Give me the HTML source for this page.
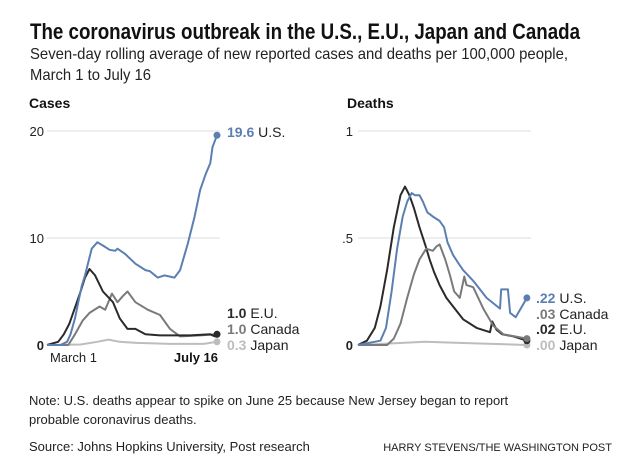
<!DOCTYPE html>
<html><head><meta charset="utf-8"><style>
html,body{margin:0;padding:0;background:#fff;}
svg{display:block;font-family:"Liberation Sans",sans-serif;}
</style></head><body>
<svg id="chart" width="640" height="464" viewBox="0 0 640 464">
<text x="30" y="39" font-size="22" font-weight="bold" fill="#111" textLength="550" lengthAdjust="spacingAndGlyphs">The coronavirus outbreak in the U.S., E.U., Japan and Canada</text>
<text x="30" y="59" font-size="16" fill="#222" textLength="538" lengthAdjust="spacingAndGlyphs">Seven-day rolling average of new reported cases and deaths per 100,000 people,</text>
<text x="30" y="80" font-size="16" fill="#222" textLength="121" lengthAdjust="spacingAndGlyphs">March 1 to July 16</text>
<text x="29" y="108" font-size="14" font-weight="bold" fill="#111">Cases</text>
<text x="347" y="108" font-size="14" font-weight="bold" fill="#111">Deaths</text>
<g id="cases"></g>
<g id="deaths"></g>
<text x="29" y="405" font-size="13" fill="#222">Note: U.S. deaths appear to spike on June 25 because New Jersey began to report</text>
<text x="29" y="424" font-size="13" fill="#222">probable coronavirus deaths.</text>
<text x="29" y="451" font-size="13" fill="#222">Source: Johns Hopkins University, Post research</text>
<text x="612" y="451" font-size="11" fill="#222" text-anchor="end">HARRY STEVENS/THE WASHINGTON POST</text>
</svg>
<script>
const usCasesDays=[0,12,18,21,25,28,31,34,40,45,50,56,61,63,70,79,88,92,99,105,114,119,126,132,137,142,146,148,152];
const usCasesVals=[0,0,0.3,1,2.5,4,5.5,6.5,9,9.6,9.3,8.9,8.8,9.0,8.5,7.6,7.0,6.9,6.3,6.5,6.3,7,9.5,12,14.5,16,17,18.5,19.6];
const euCasesDays=[0,10,15,20,25,30,34,38,43,50,59,65,72,79,88,101,128,146,150,152];
const euCasesVals=[0,0.3,1,2,3.5,5,6.3,7.1,6.5,5,4,2.5,1.5,1.5,1.0,0.9,0.9,1.0,0.8,1.0];
const caCasesDays=[0,19,25,32,38,47,52,58,63,68,72,79,90,101,110,119,137,152];
const caCasesVals=[0,0,1,2.3,3,3.6,3.3,4.8,4,4.6,5,4,3.3,2.8,1.5,0.8,0.9,1.0];
const jpCasesDays=[0,30,45,55,65,80,110,140,152];
const jpCasesVals=[0,0.05,0.3,0.5,0.3,0.2,0.1,0.1,0.3];
const usDeathDays=[0,20,25,30,35,40,44,48,51,55,58,62,67,73,77,80,85,90,94,103,115,127,128,134,136,141,151];
const usDeathVals=[0,0.02,0.08,0.25,0.45,0.6,0.67,0.71,0.7,0.7,0.67,0.62,0.6,0.58,0.55,0.48,0.42,0.38,0.35,0.3,0.22,0.17,0.26,0.26,0.15,0.13,0.22];
const euDeathDays=[0,8,15,20,26,32,38,42,46,50,55,60,64,68,73,79,85,94,106,118,120,124,129,139,151];
const euDeathVals=[0,0.02,0.08,0.18,0.35,0.55,0.7,0.74,0.7,0.64,0.55,0.47,0.4,0.34,0.28,0.22,0.18,0.12,0.08,0.06,0.11,0.07,0.05,0.04,0.02];
const caDeathDays=[0,26,32,38,44,50,55,61,67,70,73,78,82,86,91,95,97,103,112,121,130,151];
const caDeathVals=[0,0,0.03,0.1,0.22,0.33,0.4,0.45,0.44,0.46,0.47,0.4,0.33,0.25,0.22,0.32,0.28,0.27,0.17,0.09,0.05,0.03];
const jpDeathDays=[0,40,60,90,120,151];
const jpDeathVals=[0,0.01,0.015,0.01,0.005,0];
const casesTicks=[0,10,20];
const casesTickLabels=["0","10","20"];
const deathTicks=[0,0.5,1];
const deathTickLabels=["0",".5","1"];
const casesEndLabels=["19.6","1.0","1.0","0.3"];
const deathEndLabels=[".22",".03",".02",".00"];
const seriesNames=["U.S.","E.U.","Canada","Japan"];
const colors={us:"#5b7fb1",eu:"#2a2a2a",ca:"#7a7a7a",jp:"#bdbdbd"};
const NS="http://www.w3.org/2000/svg";
function mk(tag,attrs,parent){const e=document.createElementNS(NS,tag);for(const k in attrs)e.setAttribute(k,attrs[k]);parent.appendChild(e);return e;}
function panel(g,x0,x1,yMax,ticks,tickLabels,tickX,series,labels,labelYs,labelX,name){
  const xs=d=>x0+(x1-x0)*d/152;
  const ys=v=>345-214*v/yMax;
  ticks.forEach((t,i)=>{
    if(t>0){const l=mk("line",{x1:x0,x2:x1+3,y1:ys(t),y2:ys(t),stroke:"#ddd","stroke-width":1},g);
    
    }
    const tx=mk("text",{x:tickX,y:ys(t)+5,"font-size":13,"font-weight":t===0?"bold":"normal","text-anchor":"end",fill:"#222"},g);
    tx.textContent=tickLabels[i];
    
    
  });
  series.slice().reverse().forEach(s=>{
    const d=s.days.map((dd,i)=>(i?"L":"M")+xs(dd).toFixed(1)+","+ys(s.vals[i]).toFixed(1)).join("");
    const p=mk("path",{d:d,fill:"none",stroke:s.color,"stroke-width":2,"stroke-linejoin":"round"},g);
    
    
    const last=s.days.length-1;
    const c=mk("circle",{cx:xs(s.days[last]),cy:ys(s.vals[last]),r:3.5,fill:s.color},g);
    
    
  });
  series.forEach((s,i)=>{
    const t=mk("text",{x:labelX,y:labelYs[i],"font-size":14,fill:"#222"},g);
    const a=mk("tspan",{"font-weight":"bold",fill:s.color},t);a.textContent=labels[i];
    const b=mk("tspan",{},t);b.textContent=" "+s.label;
    
    
  });
}
const cg=document.getElementById("cases");
panel(cg,47,217,20,casesTicks,casesTickLabels,44,[
 {key:"us",label:seriesNames[0],days:usCasesDays,vals:usCasesVals,color:colors.us},
 {key:"eu",label:seriesNames[1],days:euCasesDays,vals:euCasesVals,color:colors.eu},
 {key:"ca",label:seriesNames[2],days:caCasesDays,vals:caCasesVals,color:colors.ca},
 {key:"jp",label:seriesNames[3],days:jpCasesDays,vals:jpCasesVals,color:colors.jp}
],casesEndLabels,[137,318,334,350],227,"cases");
const dg=document.getElementById("deaths");
panel(dg,358,528,1,deathTicks,deathTickLabels,353,[
 {key:"us",label:seriesNames[0],days:usDeathDays,vals:usDeathVals,color:colors.us},
 {key:"ca",label:seriesNames[2],days:caDeathDays,vals:caDeathVals,color:colors.ca},
 {key:"eu",label:seriesNames[1],days:euDeathDays,vals:euDeathVals,color:colors.eu},
 {key:"jp",label:seriesNames[3],days:jpDeathDays,vals:jpDeathVals,color:colors.jp}
],deathEndLabels,[303,319,334,350],536,"deaths");
const m=mk("text",{x:50,y:362,"font-size":13,fill:"#222"},cg);m.textContent="March 1";


const j=mk("text",{x:218,y:362,"font-size":13,"font-weight":"bold","text-anchor":"end",fill:"#111"},cg);j.textContent="July 16";


</script>
</body></html>
